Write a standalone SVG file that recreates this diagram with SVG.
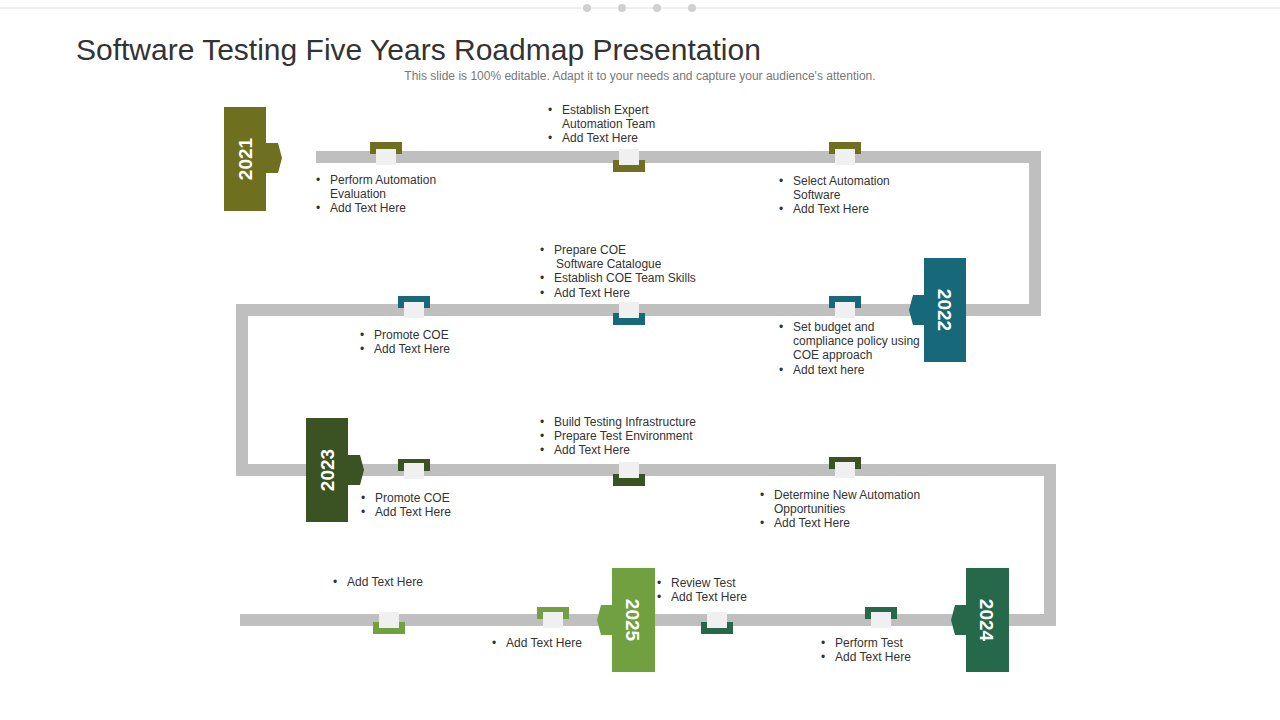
<svg xmlns="http://www.w3.org/2000/svg" width="1280" height="720" viewBox="0 0 1280 720">
<style>
.t{font-family:"Liberation Sans",Arial,sans-serif;font-size:12px;fill:#333}
.y{font-family:"Liberation Sans",Arial,sans-serif;font-size:19px;font-weight:bold;fill:#fff}
.sq{fill:#f0f0f0}
</style>
<rect width="1280" height="720" fill="#fff"/>
<line x1="0" y1="8" x2="1280" y2="8" stroke="#e0e0e0"/>
<g fill="#d0d0d0"><circle cx="587" cy="8" r="4"/><circle cx="622" cy="8" r="4"/><circle cx="657" cy="8" r="4"/><circle cx="692" cy="8" r="4"/></g>
<text x="76" y="60" font-family="Liberation Sans,Arial,sans-serif" font-size="30" fill="#333">Software Testing Five Years Roadmap Presentation</text>
<text x="640" y="80" text-anchor="middle" font-family="Liberation Sans,Arial,sans-serif" font-size="12" fill="#777">This slide is 100% editable. Adapt it to your needs and capture your audience's attention.</text>
<g id="connectors">
<path d="M316 157 H1035 V310 H242 V470 H1050 V620 H240" fill="none" stroke="#bfbfbf" stroke-width="12"/>
</g>
<g id="markers">
<g fill="#6e701f"><rect x="370" y="142" width="32" height="12"/><rect x="613" y="160" width="32" height="12"/><rect x="829" y="142" width="32" height="12"/></g>
<g class="sq"><rect x="376" y="149" width="20" height="16"/><rect x="619" y="149" width="20" height="16"/><rect x="835" y="149" width="20" height="16"/></g>
<g fill="#17697a"><rect x="398" y="296" width="32" height="12"/><rect x="613" y="313" width="32" height="12"/><rect x="829" y="296" width="32" height="12"/></g>
<g class="sq"><rect x="404" y="302" width="20" height="16"/><rect x="619" y="302" width="20" height="16"/><rect x="835" y="302" width="20" height="16"/></g>
<g fill="#3b5323"><rect x="398" y="459" width="32" height="12"/><rect x="613" y="474" width="32" height="12"/><rect x="829" y="457" width="32" height="12"/></g>
<g class="sq"><rect x="404" y="463" width="20" height="16"/><rect x="619" y="462" width="20" height="16"/><rect x="835" y="462" width="20" height="16"/></g>
<g fill="#70a040"><rect x="373" y="622" width="32" height="12"/><rect x="537" y="607" width="32" height="12"/></g>
<g fill="#25694a"><rect x="701" y="622" width="32" height="12"/><rect x="865" y="607" width="32" height="12"/></g>
<g class="sq"><rect x="379" y="612" width="20" height="16"/><rect x="543" y="612" width="20" height="16"/><rect x="707" y="612" width="20" height="16"/><rect x="871" y="612" width="20" height="16"/></g>
</g>
<g id="y2021"><rect x="224" y="107" width="42" height="104" fill="#6e701f"/><path d="M266 143 H278 L282 158 L278 173 H266Z" fill="#6e701f"/><text class="y" transform="translate(252 159) rotate(-90)" text-anchor="middle">2021</text></g>
<g id="y2022"><rect x="924" y="258" width="42" height="104" fill="#17697a"/><path d="M924 295 H913 L909 310 L913 325 H924Z" fill="#17697a"/><text class="y" transform="translate(938 310) rotate(90)" text-anchor="middle">2022</text></g>
<g id="y2023"><rect x="306" y="418" width="42" height="104" fill="#3b5323"/><path d="M348 455 H360 L364 470 L360 485 H348Z" fill="#3b5323"/><text class="y" transform="translate(334 470) rotate(-90)" text-anchor="middle">2023</text></g>
<g id="y2024"><rect x="966" y="568" width="43" height="104" fill="#25694a"/><path d="M966 605 H955 L951 620 L955 635 H966Z" fill="#25694a"/><text class="y" transform="translate(980 620) rotate(90)" text-anchor="middle">2024</text></g>
<g id="y2025"><rect x="612" y="568" width="43" height="104" fill="#70a040"/><path d="M612 605 H601 L597 620 L601 635 H612Z" fill="#70a040"/><text class="y" transform="translate(626 620) rotate(90)" text-anchor="middle">2025</text></g>
<g id="texts" class="t">
<text x="548" y="114">•</text><text x="562" y="114">Establish Expert</text><text x="562" y="128">Automation Team</text><text x="548" y="142">•</text><text x="562" y="142">Add Text Here</text>
<text x="316" y="184">•</text><text x="330" y="184">Perform Automation</text><text x="330" y="198">Evaluation</text><text x="316" y="212">•</text><text x="330" y="212">Add Text Here</text>
<text x="779" y="185">•</text><text x="793" y="185">Select Automation</text><text x="793" y="199">Software</text><text x="779" y="213">•</text><text x="793" y="213">Add Text Here</text>
<text x="540" y="254">•</text><text x="554" y="254">Prepare COE</text><text x="556" y="268">Software Catalogue</text><text x="540" y="282">•</text><text x="554" y="282">Establish COE Team Skills</text><text x="540" y="297">•</text><text x="554" y="297">Add Text Here</text>
<text x="360" y="339">•</text><text x="374" y="339">Promote COE</text><text x="360" y="353">•</text><text x="374" y="353">Add Text Here</text>
<text x="779" y="331">•</text><text x="793" y="331">Set budget and</text><text x="793" y="345">compliance policy using</text><text x="793" y="359">COE approach</text><text x="779" y="374">•</text><text x="793" y="374">Add text here</text>
<text x="540" y="426">•</text><text x="554" y="426">Build Testing Infrastructure</text><text x="540" y="440">•</text><text x="554" y="440">Prepare Test Environment</text><text x="540" y="454">•</text><text x="554" y="454">Add Text Here</text>
<text x="361" y="502">•</text><text x="375" y="502">Promote COE</text><text x="361" y="516">•</text><text x="375" y="516">Add Text Here</text>
<text x="760" y="499">•</text><text x="774" y="499">Determine New Automation</text><text x="774" y="513">Opportunities</text><text x="760" y="527">•</text><text x="774" y="527">Add Text Here</text>
<text x="333" y="586">•</text><text x="347" y="586">Add Text Here</text>
<text x="492" y="647">•</text><text x="506" y="647">Add Text Here</text>
<text x="657" y="587">•</text><text x="671" y="587">Review Test</text><text x="657" y="601">•</text><text x="671" y="601">Add Text Here</text>
<text x="821" y="647">•</text><text x="835" y="647">Perform Test</text><text x="821" y="661">•</text><text x="835" y="661">Add Text Here</text>
</g>
</svg>
